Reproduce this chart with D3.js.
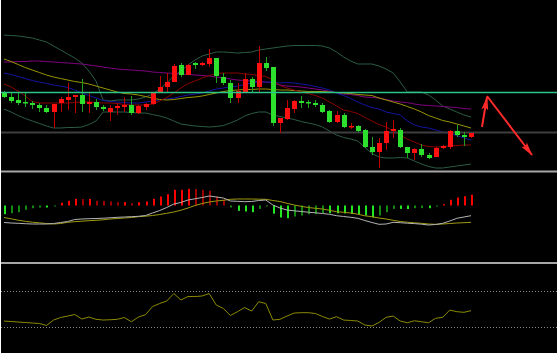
<!DOCTYPE html>
<html>
<head>
<meta charset="utf-8">
<script src="https://cdn.jsdelivr.net/npm/d3@7"></script>
<style>
  body { margin: 0; background: #fff; }
  svg { display: block; }
</style>
</head>
<body>
<svg width="558" height="355"></svg>
<script>
// daily candles, oldest first
const opens = [12.16,12.06,12.00,11.96,11.94,11.90,11.84,11.76,11.94,12.00,
    12.06,12.10,11.92,11.96,11.86,11.76,11.84,11.86,11.90,11.74,
    11.86,11.92,12.16,12.26,12.36,12.70,12.50,12.74,12.70,12.72,
    12.84,12.46,12.34,12.04,12.16,12.42,12.26,12.74,12.66,11.54,
    11.62,11.82,11.98,11.96,11.94,11.90,11.78,11.56,11.70,11.46,
    11.48,11.40,11.06,10.96,11.14,11.38,11.40,11.06,10.94,11.02,
    10.90,10.86,11.04,11.06,11.38,11.30,11.26]
const highs = [12.18,12.14,12.14,12.14,11.98,11.94,11.90,11.92,12.06,12.34,
    12.10,12.42,12.16,12.02,11.90,11.90,11.94,12.06,12.08,11.90,
    11.94,12.16,12.48,12.54,12.72,12.74,12.72,12.76,12.76,13.02,
    12.84,12.54,12.40,12.34,12.54,12.46,13.08,12.86,12.66,11.64,
    12.00,12.00,12.08,12.00,12.00,11.94,11.80,11.78,11.74,11.54,
    11.50,11.42,11.26,11.24,11.56,11.60,11.44,11.06,11.04,11.12,
    10.94,11.06,11.10,11.40,11.50,11.36,11.34]
const lows = [12.04,11.94,11.90,11.86,11.82,11.76,11.74,11.44,11.76,11.80,
    11.74,11.76,11.74,11.80,11.78,11.58,11.70,11.76,11.70,11.72,
    11.80,11.90,12.14,12.14,12.36,12.46,12.50,12.62,12.68,12.66,
    12.34,12.30,11.94,11.94,12.14,12.14,12.14,12.58,11.48,11.34,
    11.60,11.74,11.84,11.84,11.86,11.74,11.54,11.54,11.44,11.42,
    11.36,11.04,10.90,10.64,11.00,11.24,11.04,10.84,10.80,10.86,
    10.82,10.86,11.02,11.02,11.26,11.08,11.24]
const closes = [12.06,11.98,11.94,11.93,11.90,11.84,11.76,11.92,12.02,12.06,
    12.10,11.92,11.96,11.86,11.82,11.84,11.88,11.90,11.74,11.88,
    11.92,12.16,12.26,12.36,12.68,12.50,12.70,12.70,12.74,12.84,
    12.48,12.34,12.04,12.18,12.42,12.26,12.74,12.64,11.54,11.64,
    11.84,11.98,11.94,11.94,11.90,11.76,11.56,11.70,11.46,11.48,
    11.38,11.06,10.96,11.14,11.38,11.42,11.06,10.94,11.02,10.90,
    10.84,11.04,11.08,11.38,11.30,11.26,11.34]

const bollUpper = [13.30,13.29,13.28,13.26,13.24,13.20,13.16,13.08,13.00,12.92,
    12.84,12.74,12.58,12.38,12.00,11.98,12.00,12.00,12.00,12.02,
    12.06,12.12,12.22,12.34,12.48,12.58,12.70,12.80,12.88,12.92,
    12.96,12.96,12.95,12.94,12.95,12.96,13.00,13.02,13.04,13.06,
    13.08,13.09,13.09,13.09,13.09,13.08,13.04,12.96,12.86,12.78,
    12.72,12.72,12.72,12.68,12.62,12.54,12.36,12.16,12.16,12.16,
    12.10,12.00,11.88,11.82,11.76,11.70,11.66]
const bollLower = [11.82,11.76,11.69,11.63,11.58,11.53,11.48,11.44,11.44,11.45,
    11.45,11.46,11.51,11.58,11.76,11.76,11.76,11.76,11.75,11.74,
    11.74,11.71,11.68,11.64,11.58,11.52,11.50,11.48,11.47,11.46,
    11.47,11.49,11.54,11.60,11.68,11.73,11.76,11.76,11.70,11.67,
    11.64,11.61,11.57,11.54,11.51,11.46,11.38,11.30,11.25,11.22,
    11.18,11.05,10.93,10.86,10.84,10.84,10.85,10.84,10.78,10.72,
    10.67,10.64,10.64,10.66,10.68,10.70,10.72]
const ma10 = [12.32,12.26,12.18,12.08,11.97,11.94,11.94,11.94,11.94,11.94,
    11.95,11.96,11.96,11.95,11.94,11.94,11.93,11.91,11.90,11.90,
    11.90,11.92,11.98,12.05,12.14,12.24,12.33,12.38,12.44,12.49,
    12.53,12.54,12.54,12.54,12.52,12.51,12.49,12.47,12.40,12.29,
    12.24,12.20,12.16,12.13,12.09,12.04,11.96,11.88,11.80,11.77,
    11.73,11.65,11.58,11.51,11.46,11.38,11.30,11.22,11.16,11.10,
    11.07,11.06,11.07,11.08,11.09,11.10,11.10]
const ma20 = [12.82,12.77,12.71,12.65,12.60,12.55,12.50,12.46,12.43,12.40,
    12.37,12.35,12.32,12.28,12.24,12.20,12.16,12.13,12.12,12.10,
    12.07,12.04,12.01,12.00,12.01,12.03,12.05,12.06,12.08,12.11,
    12.14,12.17,12.19,12.20,12.21,12.21,12.22,12.22,12.21,12.20,
    12.20,12.19,12.18,12.17,12.17,12.17,12.16,12.15,12.14,12.13,
    12.11,12.10,12.09,12.04,12.00,11.96,11.92,11.87,11.82,11.76,
    11.69,11.64,11.59,11.56,11.52,11.48,11.44]
const ma30 = [12.54,12.51,12.47,12.43,12.39,12.36,12.33,12.30,12.28,12.25,
    12.20,12.14,12.09,12.04,11.99,11.97,11.96,11.95,11.94,11.94,
    11.96,11.98,12.00,12.02,12.04,12.07,12.10,12.12,12.14,12.18,
    12.22,12.24,12.26,12.28,12.31,12.34,12.36,12.36,12.36,12.34,
    12.35,12.34,12.32,12.30,12.27,12.24,12.20,12.14,12.09,12.03,
    11.96,11.90,11.85,11.82,11.76,11.73,11.70,11.58,11.50,11.46,
    11.44,11.40,11.36,11.33,11.29,11.24,11.20]
const ma60 = [12.76,12.76,12.77,12.77,12.78,12.78,12.77,12.76,12.75,12.74,
    12.73,12.72,12.70,12.68,12.66,12.64,12.62,12.61,12.60,12.59,
    12.58,12.56,12.55,12.54,12.53,12.52,12.51,12.50,12.49,12.48,
    12.46,12.44,12.42,12.40,12.39,12.38,12.37,12.36,12.34,12.30,
    12.28,12.27,12.26,12.24,12.22,12.20,12.17,12.14,12.12,12.11,
    12.09,12.06,12.05,12.04,12.01,11.98,11.96,11.95,11.92,11.90,
    11.89,11.88,11.87,11.86,11.85,11.83,11.82]
const priceLevels = [12.15, 11.35]

const macdHist = [-0.087,-0.077,-0.067,-0.043,-0.027,-0.020,-0.020,-0.007,0.027,0.047,
    0.067,0.064,0.066,0.047,0.046,0.040,0.033,0.034,0.023,0.033,
    0.040,0.067,0.090,0.113,0.157,0.157,0.167,0.165,0.157,0.147,
    0.090,0.057,-0.020,-0.053,-0.060,-0.067,-0.033,-0.010,-0.082,-0.120,
    -0.127,-0.110,-0.100,-0.087,-0.086,-0.076,-0.077,-0.078,-0.079,-0.085,
    -0.088,-0.100,-0.120,-0.100,-0.067,-0.033,-0.034,-0.035,-0.027,-0.026,
    -0.027,-0.007,0.013,0.057,0.080,0.093,0.107]
const macdDif = [-0.170,-0.175,-0.178,-0.182,-0.185,-0.185,-0.185,-0.180,-0.170,-0.160,
    -0.140,-0.135,-0.132,-0.130,-0.127,-0.123,-0.118,-0.115,-0.112,-0.108,
    -0.100,-0.075,-0.050,-0.020,0.015,0.030,0.055,0.067,0.080,0.095,
    0.085,0.075,0.045,0.042,0.038,0.040,0.050,0.055,0.005,-0.025,
    -0.045,-0.053,-0.060,-0.067,-0.073,-0.080,-0.088,-0.102,-0.110,-0.118,
    -0.128,-0.150,-0.170,-0.188,-0.185,-0.168,-0.172,-0.177,-0.181,-0.187,
    -0.195,-0.190,-0.178,-0.155,-0.128,-0.115,-0.102]
const macdDea = [-0.120,-0.133,-0.147,-0.158,-0.167,-0.173,-0.180,-0.185,-0.180,-0.168,
    -0.162,-0.157,-0.152,-0.148,-0.143,-0.135,-0.130,-0.125,-0.120,-0.112,
    -0.107,-0.100,-0.090,-0.078,-0.065,-0.047,-0.025,0.000,0.020,0.035,
    0.045,0.052,0.062,0.065,0.065,0.065,0.063,0.062,0.050,0.040,
    0.022,0.005,-0.008,-0.020,-0.028,-0.035,-0.048,-0.062,-0.068,-0.075,
    -0.087,-0.103,-0.112,-0.125,-0.135,-0.148,-0.160,-0.167,-0.173,-0.178,
    -0.185,-0.188,-0.185,-0.180,-0.175,-0.172,-0.168]

const rsi = [36.9,36.4,35.8,35.3,34.7,34.2,32.0,38.0,40.8,42.4,
    44.1,39.1,41.3,38.8,38.0,38.3,38.8,40.8,36.1,41.3,
    43.9,52.9,56.2,59.0,67.2,60.1,63.9,63.9,64.5,67.2,
    54.5,50.7,43.0,47.2,51.8,47.9,58.2,56.2,38.0,38.8,
    42.4,45.7,46.1,46.1,45.2,41.9,39.1,41.7,38.0,37.5,
    36.9,32.5,31.4,35.3,41.0,42.4,36.9,35.0,37.2,36.1,
    35.0,39.9,41.0,49.0,47.2,46.5,48.3]
const rsiLevels = [70, 30]

// hand-drawn arrows, [bar index, price]
const arrowUp = [[67.55, 11.46], [68.26, 12.06]]
const arrowDown = [[68.26, 12.08], [74.62, 10.90]]

const svg = d3.select('svg');
const width = +svg.attr('width');
const height = +svg.attr('height');

svg.append('rect')
    .attr('x', 1).attr('y', 0)
    .attr('width', width - 2).attr('height', height - 2)
    .attr('fill', '#000');

const x = d3.scaleLinear().domain([0, closes.length - 1]).range([4, 471]);
const yPrice = d3.scaleLinear().domain([10.58, 14]).range([171, 0]);
const yMacd = d3.scaleLinear().domain([-0.575, 0.335]).range([263, 172]);
const yRsi = d3.scaleLinear().domain([0, 100]).range([354.5, 263.8]);
const px = i => Math.round(x(i));

function drawLine(values, yScale, color) {
    svg.append('path')
        .datum(values)
        .attr('fill', 'none')
        .attr('stroke', color)
        .attr('stroke-width', 1)
        .attr('d', d3.line().x((d, i) => x(i)).y(d => yScale(d)));
}

// ---- price panel
drawLine(bollUpper, yPrice, '#2b5c44');
drawLine(bollLower, yPrice, '#2b5c44');
drawLine(ma60, yPrice, '#800080');
drawLine(ma30, yPrice, '#1414a0');
drawLine(ma20, yPrice, '#9a9400');
drawLine(ma10, yPrice, '#8a0000');

svg.append('line')
    .attr('x1', 1).attr('x2', width - 1)
    .attr('y1', yPrice(priceLevels[1])).attr('y2', yPrice(priceLevels[1]))
    .attr('stroke', '#3e3e3e').attr('stroke-width', 2);

const candles = svg.append('g');
closes.forEach((c, i) => {
    const o = opens[i];
    const up = c >= o;
    const cx = px(i);
    candles.append('line')
        .attr('x1', cx + 0.5).attr('x2', cx + 0.5)
        .attr('y1', yPrice(highs[i])).attr('y2', yPrice(lows[i]))
        .attr('stroke', up ? '#c00000' : '#1fa01f');
    const top = yPrice(Math.max(o, c));
    candles.append('rect')
        .attr('x', cx - 2).attr('width', 5)
        .attr('y', top)
        .attr('height', Math.max(1.5, yPrice(Math.min(o, c)) - top))
        .attr('fill', up ? '#ff1010' : '#2ee02e');
});

svg.append('line')
    .attr('x1', 1).attr('x2', width - 1)
    .attr('y1', yPrice(priceLevels[0])).attr('y2', yPrice(priceLevels[0]))
    .attr('stroke', '#2fc487').attr('stroke-width', 1.5);

// arrows
const defs = svg.append('defs');
defs.append('marker')
    .attr('id', 'head')
    .attr('viewBox', '0 0 16 8')
    .attr('refX', 15).attr('refY', 4)
    .attr('markerWidth', 16).attr('markerHeight', 7)
    .attr('markerUnits', 'userSpaceOnUse')
    .attr('orient', 'auto')
    .append('path')
    .attr('d', 'M0,0 L16,4 L0,8 L3,4 z')
    .attr('fill', '#ff2a2a');

[arrowUp, arrowDown].forEach(a => {
    svg.append('line')
        .attr('x1', x(a[0][0])).attr('y1', yPrice(a[0][1]))
        .attr('x2', x(a[1][0])).attr('y2', yPrice(a[1][1]))
        .attr('stroke', '#ff2a2a')
        .attr('stroke-width', 2)
        .attr('marker-end', 'url(#head)');
});

// ---- separators
[171.5, 263].forEach(y => {
    svg.append('line')
        .attr('x1', 1).attr('x2', width - 1)
        .attr('y1', y).attr('y2', y)
        .attr('stroke', '#a6a6a6').attr('stroke-width', 2);
});

// ---- MACD panel
macdHist.forEach((v, i) => {
    const prev = i > 0 ? Math.abs(macdHist[i - 1]) : 0;
    const strong = Math.abs(v) >= prev;
    const color = v >= 0 ? (strong ? '#ff0000' : '#9c0000') : (strong ? '#22e822' : '#128a12');
    const y0 = yMacd(0);
    const y1 = yMacd(v);
    svg.append('rect')
        .attr('x', px(i)).attr('width', 2)
        .attr('y', Math.min(y0, y1))
        .attr('height', Math.max(1, Math.abs(y1 - y0)))
        .attr('fill', color);
});
drawLine(macdDea, yMacd, '#a09a10');
drawLine(macdDif, yMacd, '#b4b4b4');

// ---- RSI panel
rsiLevels.forEach(v => {
    svg.append('line')
        .attr('x1', 1).attr('x2', width - 1)
        .attr('y1', Math.round(yRsi(v)) + 0.5).attr('y2', Math.round(yRsi(v)) + 0.5)
        .attr('stroke', '#8a8a8a')
        .attr('stroke-dasharray', '1,2');
});
drawLine(rsi, yRsi, '#8c8a00');
</script>
</body>
</html>
